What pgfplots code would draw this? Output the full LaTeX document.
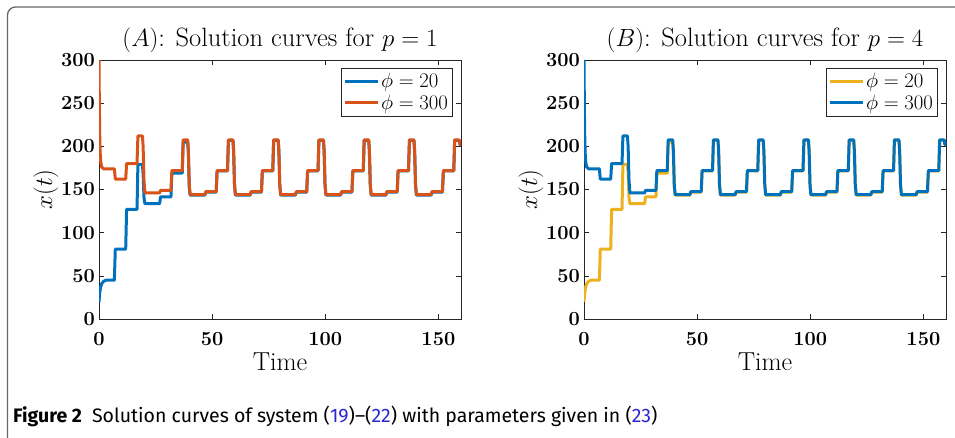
\documentclass[border=0pt]{standalone}
\usepackage{fontspec}
\usepackage{pgfplots}
\usepackage{pgfplotstable}
\pgfplotsset{compat=1.18}
\newfontfamily\capfont{Fira Sans}
\definecolor{mblue}{RGB}{0,114,189}
\definecolor{morange}{RGB}{217,83,25}
\definecolor{myellow}{RGB}{237,177,32}
\definecolor{linkblue}{RGB}{40,40,210}

% phi = 300
\pgfplotstableread{
t x
0 300
0.15 250
0.3 215
0.5 193
0.8 181
1.2 176
2 174
6.8 174
7.2 162
11.8 162
12.2 180
16.8 180
17.2 212
19.2 212
19.5 200
19.9 160
20.3 146
26.8 146
27.2 149
31.8 149
32.2 172
36.8 172
37.2 207.5
39.2 207.5
39.5 195
39.9 155
40.3 144
46.8 144
47.2 147.5
51.8 147.5
52.2 172
56.8 172
57.2 207.5
59.2 207.5
59.5 195
59.9 155
60.3 144
66.8 144
67.2 147.5
71.8 147.5
72.2 172
76.8 172
77.2 207.5
79.2 207.5
79.5 195
79.9 155
80.3 144
86.8 144
87.2 147.5
91.8 147.5
92.2 172
96.8 172
97.2 207.5
99.2 207.5
99.5 195
99.9 155
100.3 144
106.8 144
107.2 147.5
111.8 147.5
112.2 172
116.8 172
117.2 207.5
119.2 207.5
119.5 195
119.9 155
120.3 144
126.8 144
127.2 147.5
131.8 147.5
132.2 172
136.8 172
137.2 207.5
139.2 207.5
139.5 195
139.9 155
140.3 144
146.8 144
147.2 147.5
151.8 147.5
152.2 172
156.8 172
157.2 207.5
159.2 207.5
159.5 202
160 202
}\high

% phi = 20
\pgfplotstableread{
t x
0 20
0.3 30
0.7 37
1.2 41
2 43.5
3 45
6.8 45
7.2 81
11.8 81
12.2 127
16.8 127
17.2 179
19.2 179
19.5 168
19.9 140
20.3 133.5
26.8 133.5
27.2 141.5
31.8 141.5
32.2 169
36.8 169
37.2 205
39.2 205
39.5 192
39.9 152
40.3 143.5
46.8 143.5
47.2 147
51.8 147
52.2 171.5
56.8 171.5
57.2 207
59.2 207
59.5 195
59.9 155
60.3 143.5
66.8 143.5
67.2 147
71.8 147
72.2 171.5
76.8 171.5
77.2 207
79.2 207
79.5 195
79.9 155
80.3 143.5
86.8 143.5
87.2 147
91.8 147
92.2 171.5
96.8 171.5
97.2 207
99.2 207
99.5 195
99.9 155
100.3 143.5
106.8 143.5
107.2 147
111.8 147
112.2 171.5
116.8 171.5
117.2 207
119.2 207
119.5 195
119.9 155
120.3 143.5
126.8 143.5
127.2 147
131.8 147
132.2 171.5
136.8 171.5
137.2 207
139.2 207
139.5 195
139.9 155
140.3 143.5
146.8 143.5
147.2 147
151.8 147
152.2 171.5
156.8 171.5
157.2 207
159.2 207
159.5 202
160 202
}\low

\pgfplotsset{
  every axis title shift=0pt,
  panel/.style={
    scale only axis, width=362pt, height=259pt,
    xmin=0, xmax=160, ymin=0, ymax=300,
    xtick={0,50,100,150}, ytick={0,50,...,300},
    tick align=inside, major tick length=5pt,
    axis line style={line width=0.8pt, black!85},
    major tick style={line width=0.6pt, black!85},
    /pgf/number format/assume math mode=true,
    tick label style={font=\fontsize{20}{20}\selectfont\bfseries},
    yticklabel style={inner xsep=4pt},
    xticklabel style={anchor=base, yshift=-27pt},
    title style={font=\fontsize{26.5}{30}\selectfont, at={(0.5,1)}, anchor=base, yshift=13pt},
    xlabel style={font=\fontsize{26}{30}\selectfont, at={(0.5,0)}, anchor=base, yshift=-52pt},
    ylabel style={font=\fontsize{26}{30}\selectfont, at={(0,0.5)}, anchor=center, yshift=53pt},
    xlabel={Time}, ylabel={$x(t)$},
    legend style={at={(rel axis cs:0.976,0.970)}, anchor=north east,
      draw=black!85, line width=0.6pt, fill=white, inner xsep=2pt, inner ysep=2.5pt,
      font=\fontsize{20}{22}\selectfont,
      nodes={inner xsep=2pt, inner ysep=2.8pt}},
    legend cell align=left,
    legend image code/.code={\draw[##1, line width=3pt] (0pt,0pt) -- (33pt,0pt);},
    every axis plot/.append style={line width=3pt, line join=round, mark=none},
  }
}

\begin{document}
\begin{tikzpicture}[x=1pt,y=1pt]
\useasboundingbox (0,0) rectangle (955,438);
\begin{scope}
\clip (0,0) rectangle (955,438);
\draw[black!60, line width=1.3pt, rounded corners=8pt] (7.5,-20) rectangle (990,431);
\end{scope}

\begin{axis}[panel, at={(99pt,119pt)}, anchor=south west,
  title={$(A)$: Solution curves for $p=1$}]
\addplot[mblue] table[x=t,y=x] {\low};
\addlegendentry{$\phi=20$}
\addplot[morange] table[x=t,y=x] {\high};
\addlegendentry{$\phi=300$}
\end{axis}

\begin{axis}[panel, at={(584pt,119pt)}, anchor=south west,
  title={$(B)$: Solution curves for $p=4$}]
\addplot[myellow] table[x=t,y=x] {\low};
\addlegendentry{$\phi=20$}
\addplot[mblue] table[x=t,y=x] {\high};
\addlegendentry{$\phi=300$}
\end{axis}

\node[anchor=base west, inner sep=0pt] at (13,15) {\fontsize{19.5}{22}\selectfont\capfont{\bfseries Figure 2}\hspace{10pt}Solution curves of system ({\color{linkblue}19})–({\color{linkblue}22}) with parameters given in ({\color{linkblue}23})};
\end{tikzpicture}
\end{document}
